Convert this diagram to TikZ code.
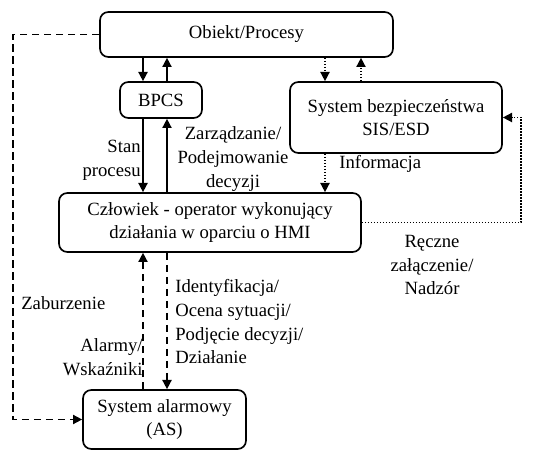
\documentclass[tikz,border=0pt]{standalone}
\usepackage{fontspec}
\setmainfont{Liberation Serif}
\usetikzlibrary{arrows.meta}
\begin{document}
\begin{tikzpicture}[x=0.6pt,y=-0.6pt,
  font=\fontsize{11.2}{14.2}\selectfont,
  box/.style={draw, rounded corners=5pt, line width=1pt, align=center, inner sep=0pt},
  arr/.style={line width=0.9pt, -{Triangle[length=5.5pt,width=5.5pt]}},
  dsh/.style={arr, dash pattern=on 4.5pt off 2.7pt},
  dtd/.style={arr, dash pattern=on 0.9pt off 0.9pt},
  lbl/.style={inner sep=0pt}]
\useasboundingbox (0,0) rectangle (533,450);
\node[box, minimum width=175.8pt, minimum height=27pt] (obj) at (246.5,34.5){Obiekt/Procesy};
\node[box, minimum width=49.2pt, minimum height=21.6pt] (bpcs) at (161,100){BPCS};
\node[box, minimum width=127.2pt, minimum height=42.6pt] (sis) at (396,117.5){System bezpieczeństwa\\SIS/ESD};
\node[box, minimum width=181.2pt, minimum height=35.4pt] (hmi) at (210,222.5){Człowiek - operator wykonujący\\działania w oparciu o HMI};
\node[box, minimum width=97.8pt, minimum height=35.4pt] (as) at (164.5,419.5){System alarmowy\\(AS)};
% columns for the vertical connectors
\coordinate (c1) at (143,0);
\coordinate (c2) at (167,0);
\coordinate (c3) at (325,0);
\coordinate (c4) at (361,0);
\coordinate (dl) at (13,0);
\coordinate (dr) at (521,0);
% BPCS loop
\draw[arr] (obj.south -| c1) -- (bpcs.north -| c1);
\draw[arr] (bpcs.north -| c2) -- (obj.south -| c2);
\draw[arr] (bpcs.south -| c1) -- (hmi.north -| c1);
\draw[arr] (hmi.north -| c2) -- (bpcs.south -| c2);
% SIS loop
\draw[dtd] (obj.south -| c3) -- (sis.north -| c3);
\draw[dtd] (sis.north -| c4) -- (obj.south -| c4);
\draw[dtd] (sis.south -| c3) -- (hmi.north -| c3);
\draw[dtd] (hmi.east) -- (hmi.east -| dr) |- (sis.east);
% alarm system
\draw[dsh] (obj.west) -- (obj.west -| dl) |- (as.west);
\draw[dsh] (as.north -| c1) -- (hmi.south -| c1);
\draw[dsh] (hmi.south -| c2) -- (as.north -| c2);
% labels
\node[lbl, anchor=east, align=right] (stan) at (141,160){Stan\\procesu};
\node[lbl, align=center] (zarz) at (233,159){Zarządzanie/\\Podejmowanie\\decyzji};
\node[lbl, anchor=west] (info) at (339,164){Informacja};
\node[lbl, align=center] (recz) at (432,265){Ręczne\\załączenie/\\Nadzór};
\node[lbl, anchor=west] (zab) at (21,303){Zaburzenie};
\node[lbl, anchor=east, align=right] (alarm) at (143,357){Alarmy/\\Wskaźniki};
\node[lbl, anchor=west, align=left] (ident) at (175,322){Identyfikacja/\\Ocena sytuacji/\\Podjęcie decyzji/\\Działanie};
\end{tikzpicture}
\end{document}
